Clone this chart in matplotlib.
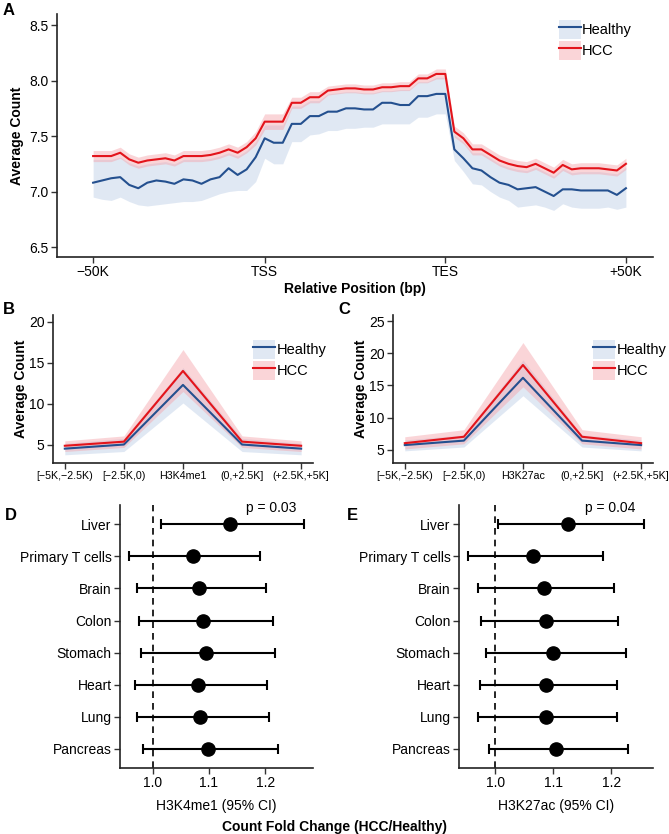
import numpy as np
import matplotlib
matplotlib.use("Agg")
import matplotlib.pyplot as plt
from matplotlib import font_manager as fm
from matplotlib.patches import Patch
from matplotlib.lines import Line2D

plt.rcParams["font.family"] = ["Liberation Sans", "DejaVu Sans"]
plt.rcParams["axes.unicode_minus"] = True

# ---- panel A: metagene profile (60 bins: 19 upstream, 20 gene body, 20 downstream)
pos_ticks = [0, 19, 39, 59]
pos_labels = ["\u221250K", "TSS", "TES", "+50K"]

healthy = [7.08, 7.10, 7.12, 7.13, 7.06, 7.03, 7.08, 7.10, 7.09, 7.07,
           7.11, 7.10, 7.07, 7.11, 7.13, 7.21, 7.15, 7.20, 7.31, 7.48,
           7.44, 7.44, 7.61, 7.61, 7.68, 7.68, 7.72, 7.72, 7.75, 7.75,
           7.74, 7.74, 7.80, 7.80, 7.78, 7.78, 7.86, 7.86, 7.88, 7.88,
           7.38, 7.30, 7.21, 7.19, 7.13, 7.08, 7.06, 7.02, 7.03, 7.04,
           7.00, 6.96, 7.02, 7.02, 7.01, 7.01, 7.01, 7.01, 6.97, 7.03]
healthy_lo = [6.95, 6.93, 6.92, 6.95, 6.91, 6.88, 6.87, 6.88, 6.89, 6.90,
              6.91, 6.91, 6.92, 6.95, 6.98, 7.00, 7.01, 7.01, 7.09, 7.30,
              7.25, 7.25, 7.45, 7.45, 7.51, 7.52, 7.55, 7.55, 7.57, 7.57,
              7.58, 7.58, 7.61, 7.61, 7.61, 7.61, 7.67, 7.67, 7.70, 7.70,
              7.28, 7.18, 7.07, 7.06, 7.00, 6.95, 6.92, 6.86, 6.87, 6.88,
              6.86, 6.83, 6.89, 6.86, 6.85, 6.85, 6.85, 6.86, 6.84, 6.86]
healthy_hi = [7.29, 7.29, 7.29, 7.31, 7.26, 7.23, 7.25, 7.26, 7.27, 7.25,
              7.29, 7.29, 7.29, 7.30, 7.32, 7.35, 7.32, 7.37, 7.45, 7.60,
              7.60, 7.60, 7.77, 7.77, 7.82, 7.82, 7.88, 7.89, 7.90, 7.90,
              7.89, 7.89, 7.91, 7.91, 7.92, 7.92, 7.99, 7.99, 8.03, 8.03,
              7.51, 7.45, 7.35, 7.35, 7.30, 7.25, 7.22, 7.20, 7.19, 7.22,
              7.18, 7.14, 7.21, 7.17, 7.18, 7.18, 7.18, 7.17, 7.16, 7.22]
hcc = [7.32, 7.32, 7.32, 7.35, 7.29, 7.26, 7.28, 7.29, 7.30, 7.28,
       7.32, 7.32, 7.32, 7.33, 7.35, 7.38, 7.35, 7.40, 7.48, 7.63,
       7.63, 7.63, 7.80, 7.80, 7.85, 7.85, 7.91, 7.92, 7.93, 7.93,
       7.92, 7.92, 7.94, 7.94, 7.95, 7.95, 8.02, 8.02, 8.06, 8.06,
       7.54, 7.48, 7.38, 7.38, 7.33, 7.28, 7.25, 7.23, 7.22, 7.25,
       7.21, 7.17, 7.24, 7.20, 7.21, 7.21, 7.21, 7.20, 7.19, 7.25]
hcc_ci = [0.05, 0.05, 0.05, 0.05, 0.05, 0.05, 0.05, 0.05, 0.05, 0.05,
          0.05, 0.05, 0.05, 0.05, 0.05, 0.05, 0.05, 0.05, 0.06, 0.07,
          0.07, 0.07, 0.05, 0.05, 0.05, 0.05, 0.04, 0.04, 0.04, 0.04,
          0.04, 0.04, 0.04, 0.04, 0.04, 0.04, 0.04, 0.04, 0.045, 0.045,
          0.05, 0.05, 0.05, 0.05, 0.05, 0.05, 0.05, 0.05, 0.05, 0.05,
          0.05, 0.05, 0.05, 0.05, 0.05, 0.05, 0.05, 0.05, 0.05, 0.05]

# ---- panels B / C: mark windows
win_B = ["[\u22125K,\u22122.5K)", "[\u22122.5K,0)", "H3K4me1", "(0,+2.5K]", "(+2.5K,+5K]"]
win_C = ["[\u22125K,\u22122.5K)", "[\u22122.5K,0)", "H3K27ac", "(0,+2.5K]", "(+2.5K,+5K]"]
B_healthy = [4.55, 5.05, 12.3, 5.05, 4.55]
B_healthy_lo = [3.8, 4.2, 10.1, 4.2, 3.8]
B_healthy_hi = [5.2, 5.8, 14.4, 5.8, 5.2]
B_hcc = [4.9, 5.4, 14.0, 5.4, 4.9]
B_hcc_lo = [4.2, 4.7, 11.5, 4.7, 4.2]
B_hcc_hi = [5.5, 6.1, 16.6, 6.1, 5.5]
C_healthy = [5.7, 6.4, 16.2, 6.4, 5.7]
C_healthy_lo = [4.8, 5.4, 13.4, 5.4, 4.8]
C_healthy_hi = [6.5, 7.3, 19.0, 7.3, 6.5]
C_hcc = [6.0, 7.0, 18.2, 7.0, 6.0]
C_hcc_lo = [5.1, 5.9, 14.8, 5.9, 5.1]
C_hcc_hi = [7.0, 8.1, 21.7, 8.1, 7.0]

# ---- panels D / E: fold change by tissue
tissues = ["Liver", "Primary T cells", "Brain", "Colon", "Stomach", "Heart", "Lung", "Pancreas"]
D_est = [1.137, 1.071, 1.082, 1.090, 1.095, 1.081, 1.084, 1.099]
D_lo = [1.015, 0.958, 0.972, 0.976, 0.980, 0.969, 0.972, 0.983]
D_hi = [1.269, 1.191, 1.202, 1.213, 1.217, 1.204, 1.207, 1.222]
E_est = [1.126, 1.065, 1.083, 1.088, 1.099, 1.087, 1.087, 1.104]
E_lo = [1.005, 0.953, 0.969, 0.975, 0.984, 0.973, 0.970, 0.989]
E_hi = [1.256, 1.186, 1.204, 1.212, 1.225, 1.209, 1.210, 1.229]

BLUE, BLUE_F = "#24508f", "#a8bfdf"
RED, RED_F = "#e3141b", "#f5a3aa"
FS = 10

# window labels are tightly packed in the original -> narrow face if we have one
try:
    fm.findfont("Liberation Sans Narrow", fallback_to_default=False)
    WIN_FONT = dict(family=["Liberation Sans Narrow", "DejaVu Sans"], size=9)
except ValueError:
    WIN_FONT = dict(family=["Liberation Sans", "DejaVu Sans"], size=7.7)


def style(ax):
    for s in ("top", "right"):
        ax.spines[s].set_visible(False)
    for s in ("left", "bottom"):
        ax.spines[s].set_linewidth(1.2)
        ax.spines[s].set_color("#222222")
    ax.tick_params(direction="out", length=4, width=1, color="#333333",
                   labelsize=FS, labelcolor="black", pad=2)


def legend(ax, anchor):
    h = [(Patch(fc=BLUE_F, ec="none", alpha=0.35), Line2D([], [], color=BLUE, lw=1.5)),
         (Patch(fc=RED_F, ec="none", alpha=0.45), Line2D([], [], color=RED, lw=1.5))]
    ax.legend(h, ["Healthy", "HCC"], loc="upper left", bbox_to_anchor=anchor,
              frameon=False, fontsize=FS + 0.5, handlelength=1.5, handleheight=1.6,
              handletextpad=0.1, labelspacing=0.15, borderpad=0, borderaxespad=0)


fig = plt.figure(figsize=(6.69, 8.34), dpi=100)

# A
ax = fig.add_axes([0.0852, 0.6918, 0.8909, 0.2914])
x = np.arange(len(healthy))
hcc_a, ci_a = np.array(hcc), np.array(hcc_ci)
ax.fill_between(x, healthy_lo, healthy_hi, color=BLUE_F, alpha=0.35, lw=0)
ax.fill_between(x, hcc_a - ci_a, hcc_a + ci_a, color=RED_F, alpha=0.45, lw=0)
ax.plot(x, healthy, color=BLUE, lw=1.5)
ax.plot(x, hcc, color=RED, lw=1.5)
ax.set_xlim(-4, 62)
ax.set_ylim(6.41, 8.6)
ax.set_yticks([6.5, 7.0, 7.5, 8.0, 8.5])
ax.set_yticklabels(["6.5", "7.0", "7.5", "8.0", "8.5"])
ax.set_xticks(pos_ticks)
ax.set_xticklabels(pos_labels)
ax.set_ylabel("Average Count", fontsize=FS, fontweight="bold", labelpad=4)
ax.set_xlabel("Relative Position (bp)", fontsize=FS, fontweight="bold", labelpad=2)
style(ax)
legend(ax, (0.842, 0.975))

# B, C
for rect, labels, hv, hl, hh, cv, cl, ch, ylim, yt in [
        ([0.0792, 0.4448, 0.3886, 0.1775], win_B, B_healthy, B_healthy_lo, B_healthy_hi,
         B_hcc, B_hcc_lo, B_hcc_hi, (2.8, 20.8), [5, 10, 15, 20]),
        ([0.5874, 0.4448, 0.3886, 0.1775], win_C, C_healthy, C_healthy_lo, C_healthy_hi,
         C_hcc, C_hcc_lo, C_hcc_hi, (2.9, 26.0), [5, 10, 15, 20, 25])]:
    ax = fig.add_axes(rect)
    xi = np.arange(len(labels))
    ax.fill_between(xi, hl, hh, color=BLUE_F, alpha=0.35, lw=0)
    ax.fill_between(xi, cl, ch, color=RED_F, alpha=0.45, lw=0)
    ax.plot(xi, hv, color=BLUE, lw=1.5)
    ax.plot(xi, cv, color=RED, lw=1.5)
    ax.set_xlim(-0.2, 4.2)
    ax.set_ylim(*ylim)
    ax.set_yticks(yt)
    ax.set_xticks(xi)
    ax.set_xticklabels(labels, **WIN_FONT)
    ax.set_ylabel("Average Count", fontsize=FS, fontweight="bold", labelpad=1)
    style(ax)
    ax.tick_params(axis="x", labelsize=WIN_FONT["size"])
    legend(ax, (0.77, 0.83))

# D, E
for rect, est, lo, hi, xl, ptxt, xlim in [
        ([0.1794, 0.0791, 0.2885, 0.3153], D_est, D_lo, D_hi, "H3K4me1 (95% CI)", "p = 0.03", (0.942, 1.285)),
        ([0.6861, 0.0791, 0.2900, 0.3153], E_est, E_lo, E_hi, "H3K27ac (95% CI)", "p = 0.04", (0.937, 1.272))]:
    ax = fig.add_axes(rect)
    yi = np.arange(len(tissues))
    est_a = np.array(est)
    ax.axvline(1.0, color="black", lw=1.2, ls=(0, (4, 3)), zorder=1)
    ax.errorbar(est_a, yi, xerr=[est_a - np.array(lo), np.array(hi) - est_a], fmt="o",
                color="black", ms=9.5, capsize=3.6, elinewidth=1.5, capthick=1.5, zorder=3)
    ax.text(hi[0] - 0.058, yi[0] - 0.3, ptxt, fontsize=FS, ha="center", va="bottom")
    ax.set_ylim(len(tissues) - 0.4, -0.6)
    ax.set_xlim(*xlim)
    ax.set_yticks(yi)
    ax.set_yticklabels(tissues)
    ax.set_xticks([1.0, 1.1, 1.2])
    ax.set_xticklabels(["1.0", "1.1", "1.2"])
    ax.set_xlabel(xl, fontsize=FS, labelpad=6)
    style(ax)

fig.text(0.5, 1 - 827 / 834, "Count Fold Change (HCC/Healthy)", fontsize=FS, fontweight="bold",
         ha="center", va="center")
for lab, px, py in [("A", 3, 3), ("B", 3, 302), ("C", 338, 302), ("D", 5, 508), ("E", 347, 508)]:
    fig.text(px / 669, 1 - py / 834, lab, fontsize=12, fontweight="bold", ha="left", va="top")

fig.savefig("out.png", dpi=100, facecolor="white")
